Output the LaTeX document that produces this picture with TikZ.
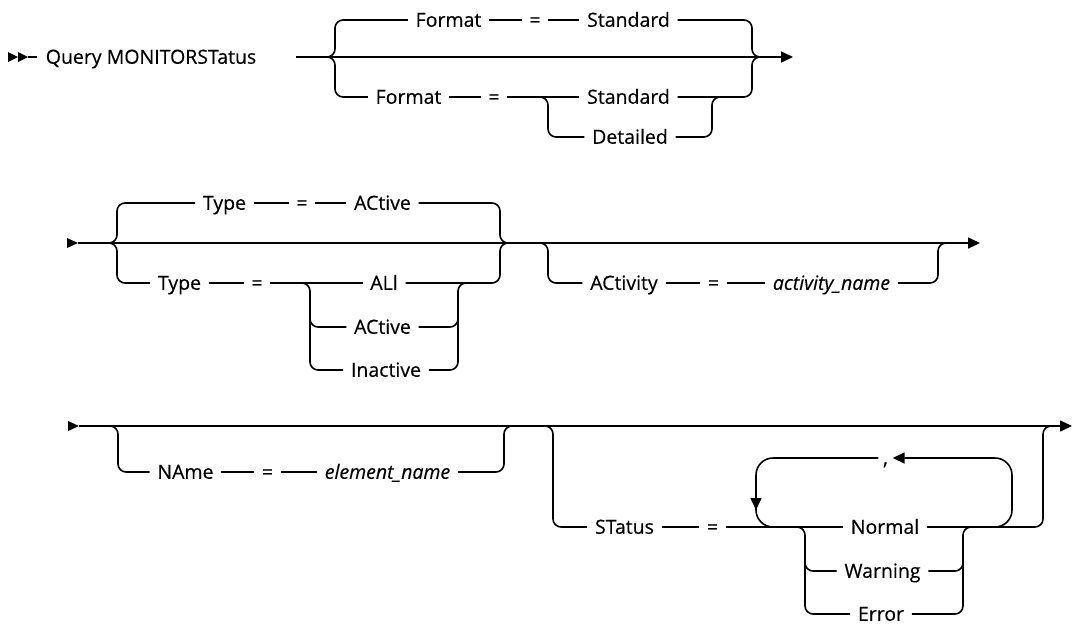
\documentclass[tikz,border=0pt]{standalone}
\usepackage{fontspec}
\setmainfont{Open Sans}[FakeBold=0.35]
\usetikzlibrary{arrows.meta}
\begin{document}
\begin{tikzpicture}[x=1pt,y=-1pt,
  line width=1.6pt,
  lab/.style={font=\fontsize{19.5}{22}\selectfont, inner xsep=7pt, inner ysep=0pt, text height=13.5pt, text depth=0pt},
  var/.style={lab, font=\fontsize{19.5}{22}\selectfont\itshape},
  rc/.style={rounded corners=8pt},
  lc/.style={rounded corners=17pt},
  tip/.style={-{Triangle[length=12pt,width=11pt]}},
  head/.style={fill=black, draw=none}
]
\clip (0,0) rectangle (1073,624);

% ---------------- Row 1 ----------------
\fill[head] (8,52) -- (18,57) -- (8,62) -- cycle;
\fill[head] (18,52) -- (28,57) -- (18,62) -- cycle;
\coordinate (r1a) at (28,57);
\coordinate (r1b) at (37,57);
\draw (r1a) -- (r1b);
\node[lab, anchor=west, inner xsep=0pt] (q) at (45,57) {Query MONITORSTatus};
\coordinate (r1s) at (296,57);
\coordinate (r1e) at (793,57);
\draw[tip] (r1s) -- (r1e);

\node[lab] (F1) at (448.5,20) {Format};
\node[lab] (E1) at (535,20) {=};
\node[lab] (S1) at (628.5,20) {Standard};
\draw[rc] (327,57) -| (335,20) -- (F1);
\draw (F1) -- (E1) -- (S1);
\draw[rc] (S1) -| (752,57) -- (760,57);

\node[lab] (F2) at (408.5,97) {Format};
\node[lab] (E2) at (494,97) {=};
\node[lab] (S2) at (628.5,97) {Standard};
\node[lab] (D1) at (630,137) {Detailed};
\draw[rc] (327,57) -| (335,97) -- (F2);
\draw (F2) -- (E2) -- (S2);
\draw[rc] (S2) -| (752,57) -- (760,57);
\draw[rc] (540,97) -| (548,137) -- (D1);
\draw[rc] (D1) -| (712,97) -- (720,97);

% ---------------- Row 2 ----------------
\fill[head] (67,238) -- (78,243) -- (67,248) -- cycle;
\coordinate (r2s) at (78,243);
\coordinate (r2e) at (980,243);
\draw[tip] (r2s) -- (r2e);

\node[lab] (T1) at (224.5,203) {Type};
\node[lab] (E3) at (302,203) {=};
\node[lab] (A1) at (382.5,203) {ACtive};
\draw[rc] (109,243) -| (117,203) -- (T1);
\draw (T1) -- (E3) -- (A1);
\draw[rc] (A1) -| (500,243) -- (508,243);

\node[lab] (T2) at (179.5,283) {Type};
\node[lab] (E4) at (257,283) {=};
\node[lab] (L1) at (384,283) {ALl};
\node[lab] (A2) at (382.5,327) {ACtive};
\node[lab] (I1) at (386,370) {Inactive};
\draw[rc] (109,243) -| (117,283) -- (T2);
\draw (T2) -- (E4) -- (L1);
\draw[rc] (L1) -| (500,243) -- (508,243);
\draw[rc] (302,283) -| (310,370) -- (I1);
\draw[rc] (310,310) |- (A2);
\draw[rc] (I1) -| (458,283) -- (466,283);
\draw[rc] (A2) -| (458,310);

\node[lab] (AC) at (624,283) {ACtivity};
\node[lab] (E5) at (713.5,283) {=};
\node[var] (AN) at (831.5,283) {activity\_name};
\draw[rc] (540,243) -| (548,283) -- (AC);
\draw (AC) -- (E5) -- (AN);
\draw[rc] (AN) -| (938,243) -- (946,243);

% ---------------- Row 3 ----------------
\fill[head] (68,421) -- (79,426) -- (68,431) -- cycle;
\coordinate (r3s) at (79,426);
\coordinate (r3e) at (1072,426);
\draw[tip] (r3s) -- (r3e);

\node[lab] (N1) at (185.5,472) {NAme};
\node[lab] (E6) at (267.5,472) {=};
\node[var] (EN) at (387.5,472) {element\_name};
\draw[rc] (110,426) -| (118,472) -- (N1);
\draw (N1) -- (E6) -- (EN);
\draw[rc] (EN) -| (504,426) -- (512,426);

\node[lab] (ST) at (624.5,527) {STatus};
\node[lab] (E7) at (712.5,527) {=};
\node[lab] (NO) at (885,527) {Normal};
\node[lab] (WA) at (882.5,571) {Warning};
\node[lab] (ER) at (881,614) {Error};
\node[lab, inner xsep=4pt] (CM) at (885.5,458) {,};
\draw[rc] (545,426) -| (553,527) -- (ST);
\draw (ST) -- (E7) -- (NO);
\draw[rc] (NO) -| (1043,426) -- (1051,426);
\draw[rc] (797,527) -| (805,614) -- (ER);
\draw[rc] (805,550) |- (WA);
\draw[rc] (ER) -| (963,527) -- (971,527);
\draw[rc] (WA) -| (963,550);
% repeat loop
\draw[lc, tip] (990,527) -| (1012,458) -- (CM);
\draw[lc, tip] (CM) -| (756,510);
\draw[lc] (756,500) |- (782,527);
\end{tikzpicture}
\end{document}
